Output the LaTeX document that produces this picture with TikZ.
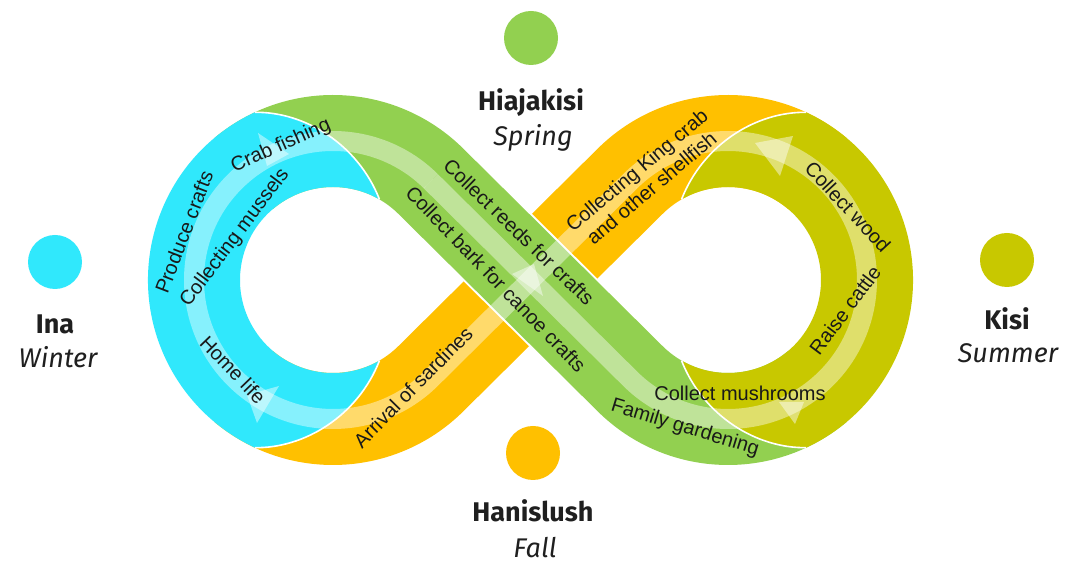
\documentclass[tikz,border=0pt]{standalone}
\usepackage{fontspec}
\setmainfont{Liberation Sans}
\newfontfamily\seasonfont{Fira Sans}
\usetikzlibrary{calc}
\definecolor{cyanB}{RGB}{48,232,252}
\definecolor{greenB}{RGB}{146,208,80}
\definecolor{orangeB}{RGB}{255,192,0}
\definecolor{oliveB}{RGB}{200,200,0}
\definecolor{txt}{RGB}{25,25,25}
\begin{document}
\begin{tikzpicture}[x=1pt,y=1pt,
  band/.style={line width=92pt},
  bandline/.style={line width=96pt, white},
  stripe/.style={draw=white, draw opacity=0.42, line width=20pt},
  tiptri/.style={fill=white, fill opacity=0.45},
  sep/.style={draw=white, line width=1.6pt},
  lbl/.style={text=txt, font=\fontsize{20}{23}\selectfont, inner sep=0pt},
  season/.style={font=\seasonfont\bfseries\fontsize{27}{30}\selectfont, text=black!88, anchor=base, inner sep=0pt},
  seasonit/.style={font=\seasonfont\itshape\fontsize{27}{30}\selectfont, text=black!88, anchor=base, inner sep=0pt},
  dot/.style={circle, minimum size=54pt, inner sep=0pt}
]
\fill[white] (0,0) rectangle (1077,564);
\useasboundingbox (0,0) rectangle (1077,564);
\coordinate (L) at (333,284);
\coordinate (R) at (728,284);

% orange band (bottom-left to top-right)
\draw[band, orangeB] ($(L)+(230:139)$) arc[start angle=230, end angle=314.73, radius=139]
  -- ($(R)+(134.73:139)$) arc[start angle=134.73, end angle=50, radius=139];
% green band (top-left to bottom-right), on top with white edges
\draw[bandline] ($(L)+(130:139)$) arc[start angle=130, end angle=45.27, radius=139]
  -- ($(R)+(225.27:139)$) arc[start angle=225.27, end angle=310, radius=139];
\draw[band, greenB] ($(L)+(130:139)$) arc[start angle=130, end angle=45.27, radius=139]
  -- ($(R)+(225.27:139)$) arc[start angle=225.27, end angle=310, radius=139];

% cyan loop
\fill[cyanB] ($(L)+(115:185)$) arc[start angle=115, end angle=245, radius=185]
  .. controls (305,115.6) and (358,148.5) .. ($(L)+(-60:93)$)
  arc[start angle=-60, end angle=-300, radius=93]
  .. controls (358,419.5) and (305,452.4) .. cycle;
% olive loop
\fill[oliveB] ($(R)+(65:185)$) arc[start angle=65, end angle=-65, radius=185]
  .. controls (756,115.6) and (703,148.5) .. ($(R)+(-120:93)$)
  arc[start angle=-120, end angle=120, radius=93]
  .. controls (703,419.5) and (756,452.4) .. cycle;

% separators
\draw[sep] ($(L)+(115:185)$) .. controls (305,452.4) and (358,419.5) .. ($(L)+(60:93)$);
\draw[sep] ($(L)+(245:185)$) .. controls (305,115.6) and (358,148.5) .. ($(L)+(-60:93)$);
\draw[sep] ($(R)+(65:185)$) .. controls (756,452.4) and (703,419.5) .. ($(R)+(120:93)$);
\draw[sep] ($(R)+(-65:185)$) .. controls (756,115.6) and (703,148.5) .. ($(R)+(-120:93)$);

% translucent flow stripe
\draw[stripe] ($(L)+(45.27:139)$) -- ($(R)+(225.27:139)$) arc[start angle=225.27, end angle=494.73, radius=139];
\draw[stripe] ($(R)+(134.73:139)$) -- ($(L)+(314.73:139)$) arc[start angle=314.73, end angle=45.27, radius=139];

% arrow heads
\fill[tiptri] (258,431) -- (289,410) -- (267,398) -- cycle;
\fill[tiptri] (279,178) -- (247,169) -- (257,141) -- cycle;
\fill[tiptri] (755,421) -- (793,428) -- (780,388) -- cycle;
\fill[tiptri] (779,162) -- (804,162) -- (795,140) -- cycle;
\fill[tiptri] (512,290) -- (534,300) -- (543,268) -- cycle;

% band texts
\node[lbl, rotate=24] (t1) at (281,418) {Crab fishing};
\node[lbl, rotate=69] (t2) at (184,332) {Produce crafts};
\node[lbl, rotate=53] (t3) at (235,326) {Collecting mussels};
\node[lbl, rotate=-46] (t4) at (233,194) {Home life};
\node[lbl, rotate=-44] (t5) at (519,332) {Collect reeds for crafts};
\node[lbl, rotate=-46] (t6) at (496,285) {Collect bark for canoe crafts};
\node[lbl, rotate=40, align=center] (t7) at (644,385) {Collecting King crab\\and other shellfish};
\node[lbl, rotate=45.5] (t8) at (413,177) {Arrival of sardines};
\node[lbl, rotate=-47] (t9) at (848,357) {Collect wood};
\node[lbl, rotate=53] (t10) at (845,254) {Raise cattle};
\node[lbl] (t11) at (740,171) {Collect mushrooms};
\node[lbl, rotate=-17] (t12) at (685,136) {Family gardening};

% seasons
\node[dot, fill=greenB] (dspring) at (531,526) {};
\node[dot, fill=cyanB] (dwinter) at (55,302) {};
\node[dot, fill=oliveB] (dsummer) at (1007,304) {};
\node[dot, fill=orangeB] (dfall) at (533,111) {};

\node[season] (nspring) at (531,453) {Hiajakisi};
\node[seasonit] (sspring) at (533,418) {Spring};
\node[season] (nwinter) at (55,230) {Ina};
\node[seasonit] (swinter) at (58,196) {Winter};
\node[season] (nsummer) at (1007,234) {Kisi};
\node[seasonit] (ssummer) at (1008,201) {Summer};
\node[season] (nfall) at (533,42) {Hanislush};
\node[seasonit] (sfall) at (535,6) {Fall};
\end{tikzpicture}
\end{document}
